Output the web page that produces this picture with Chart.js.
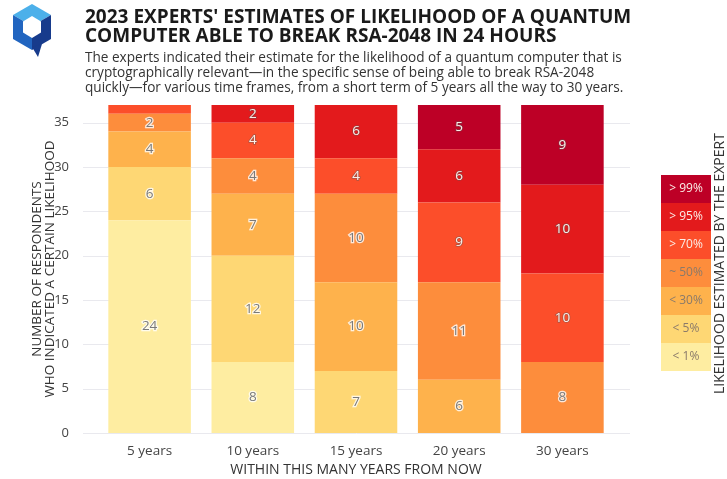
<!DOCTYPE html>
<html lang="en">
<head>
    <meta charset="UTF-8">
    <title>Quantum RSA-2048 Estimates</title>
    <script src="https://cdn.jsdelivr.net/npm/chart.js@4.4.1/dist/chart.umd.min.js"></script>
    <style>
        body {
            margin: 0;
            background: white;
            font-family: 'Open Sans', sans-serif;
        }
        .page {
            position: relative;
            width: 727px;
            height: 479px;
            overflow: hidden;
        }
        .logo {
            position: absolute;
            left: 0;
            top: 0;
        }
        .title {
            position: absolute;
            left: 85px;
            top: 7px;
            margin: 0;
            font-size: 19px;
            line-height: 19px;
            font-weight: 700;
            color: #1a1a1a;
        }
        .subtitle {
            position: absolute;
            left: 85px;
            top: 49px;
            margin: 0;
            font-size: 13.6px;
            line-height: 15px;
            color: #333;
        }
        .chart-box {
            position: absolute;
            left: 0;
            top: 0;
            width: 727px;
            height: 479px;
        }
    </style>
</head>
<body>
<div class="page">
    <div class="chart-box"><canvas id="qChart"></canvas></div>
    <svg class="logo" width="64" height="60" viewBox="0 0 64 60">
        <!-- cube shaped outer hexagon -->
        <polygon points="13,15 32,4 51,15 32,26" fill="#4cb0ea"/>
        <polygon points="13,15 32,26 32,50 13,39" fill="#2165c0"/>
        <polygon points="32,26 51,15 51,39 32,50" fill="#173b8c"/>
        <polygon points="32,47 42,44 38,57" fill="#173b8c"/>
        <polygon points="32,16 41,21.5 41,32.5 32,38 23,32.5 23,21.5" fill="white"/>
    </svg>
    <h1 class="title">2023 EXPERTS' ESTIMATES OF LIKELIHOOD OF A QUANTUM<br>COMPUTER ABLE TO BREAK RSA-2048 IN 24 HOURS</h1>
    <p class="subtitle">The experts indicated their estimate for the likelihood of a quantum computer that is<br>cryptographically relevant—in the specific sense of being able to break RSA-2048<br>quickly—for various time frames, from a short term of 5 years all the way to 30 years.</p>
</div>

<script>
    // time frames on the x axis
    const timeFrames = ['5 years', '10 years', '15 years', '20 years', '30 years'];

    // likelihood buckets, stacked from bottom to top
    const bucketNames = ['< 1%', '< 5%', '< 30%', '~ 50%', '> 70%', '> 95%', '> 99%'];
    const bucketColors = ['#feeda1', '#fed774', '#feb24c', '#fd8d3c', '#fc4e2a', '#e31a1c', '#bd0026'];

    // respondents per bucket, one value per time frame
    const lessThan1 = [24, 8, 0, 0, 0];
    const lessThan5 = [6, 12, 7, 0, 0];
    const lessThan30 = [4, 7, 10, 6, 0];
    const about50 = [2, 4, 10, 11, 8];
    const moreThan70 = [1, 4, 4, 9, 10];
    const moreThan95 = [0, 2, 6, 6, 10];
    const moreThan99 = [0, 0, 0, 5, 9];

    const yTicks = [0, 5, 10, 15, 20, 25, 30, 35];

    const bucketValues = [lessThan1, lessThan5, lessThan30, about50, moreThan70, moreThan95, moreThan99];

    // horizontal grid lines run a bit past the plot on both sides
    const wideGrid = {
        id: 'wideGrid',
        beforeDatasetsDraw(chart) {
            const ctx = chart.ctx;
            const y = chart.scales.y;
            ctx.save();
            ctx.strokeStyle = '#e9e9ee';
            ctx.lineWidth = 1;
            yTicks.forEach(v => {
                const py = Math.round(y.getPixelForValue(v)) + 0.5;
                ctx.beginPath();
                ctx.moveTo(83, py);
                ctx.lineTo(630, py);
                ctx.stroke();
            });
            ctx.restore();
        }
    };

    // numbers written inside each bar segment
    const segmentLabels = {
        id: 'segmentLabels',
        afterDatasetsDraw(chart) {
            const ctx = chart.ctx;
            ctx.save();
            ctx.font = '13.5px "Open Sans", sans-serif';
            ctx.textAlign = 'center';
            ctx.textBaseline = 'middle';
            chart.data.datasets.forEach((ds, i) => {
                const meta = chart.getDatasetMeta(i);
                meta.data.forEach((bar, j) => {
                    const v = ds.data[j];
                    if (v < 2) return;
                    const y = (bar.y + bar.base) / 2;
                    if (i >= 4) {
                        ctx.lineWidth = 1.5;
                        ctx.strokeStyle = 'rgba(90,90,90,0.5)';
                        ctx.strokeText(v, bar.x, y);
                        ctx.fillStyle = '#fbeee8';
                    } else {
                        ctx.lineWidth = 2.5;
                        ctx.strokeStyle = 'rgba(255,255,255,0.8)';
                        ctx.strokeText(v, bar.x, y);
                        ctx.fillStyle = '#7a7a7a';
                    }
                    ctx.fillText(v, bar.x, y);
                });
            });
            ctx.restore();
        }
    };

    // colour key on the right, top bucket first
    const colourKey = {
        id: 'colourKey',
        afterDraw(chart) {
            const ctx = chart.ctx;
            const left = 661, top = 175, w = 50, h = 28;
            ctx.save();
            ctx.font = '12px "Open Sans", sans-serif';
            ctx.textAlign = 'center';
            ctx.textBaseline = 'middle';
            const n = bucketNames.length;
            for (let k = 0; k < n; k++) {
                const idx = n - 1 - k;
                ctx.fillStyle = bucketColors[idx];
                ctx.fillRect(left, top + k * h, w, h);
                ctx.fillStyle = idx >= 4 ? '#fbeee8' : '#8a7a6a';
                ctx.fillText(bucketNames[idx], left + w / 2, top + k * h + h / 2);
            }
            // rotated key title
            ctx.translate(720, 394);
            ctx.rotate(-Math.PI / 2);
            ctx.font = '14px "Open Sans", sans-serif';
            ctx.fillStyle = '#333';
            ctx.textAlign = 'left';
            ctx.textBaseline = 'middle';
            ctx.fillText('LIKELIHOOD ESTIMATED BY THE EXPERT', 0, 0);
            ctx.restore();
        }
    };

    new Chart(document.getElementById('qChart'), {
        type: 'bar',
        data: {
            labels: timeFrames,
            datasets: bucketValues.map((vals, i) => ({
                label: bucketNames[i],
                data: vals,
                backgroundColor: bucketColors[i],
                borderWidth: 0,
                categoryPercentage: 1,
                barPercentage: 0.8
            }))
        },
        options: {
            responsive: true,
            maintainAspectRatio: false,
            animation: false,
            layout: { padding: { top: 105, left: 30, right: 113, bottom: 0 } },
            plugins: {
                legend: { display: false },
                tooltip: { enabled: false }
            },
            scales: {
                x: {
                    stacked: true,
                    grid: { display: false },
                    border: { display: false },
                    ticks: { color: '#444', font: { size: 13.5, family: 'Open Sans', lineHeight: 1.1 }, padding: 3 },
                    title: {
                        display: true,
                        text: 'WITHIN THIS MANY YEARS FROM NOW',
                        color: '#333',
                        font: { size: 14, family: 'Open Sans', lineHeight: 1.15 },
                        padding: { top: 0, bottom: 1 }
                    }
                },
                y: {
                    stacked: true,
                    min: 0,
                    max: 37,
                    afterBuildTicks(scale) {
                        scale.ticks = yTicks.map(v => ({ value: v }));
                    },
                    afterFit(scale) {
                        scale.width = 68;
                    },
                    grid: { display: false },
                    border: { display: false },
                    ticks: { color: '#444', font: { size: 13, family: 'Open Sans' }, padding: 21 },
                    title: {
                        display: true,
                        text: ['NUMBER OF RESPONDENTS', 'WHO INDICATED A CERTAIN LIKELIHOOD'],
                        color: '#333',
                        font: { size: 13.5, family: 'Open Sans', lineHeight: 1.02 },
                        padding: { top: 0, bottom: 0 }
                    }
                }
            }
        },
        plugins: [wideGrid, segmentLabels, colourKey]
    });
</script>
</body>
</html>
